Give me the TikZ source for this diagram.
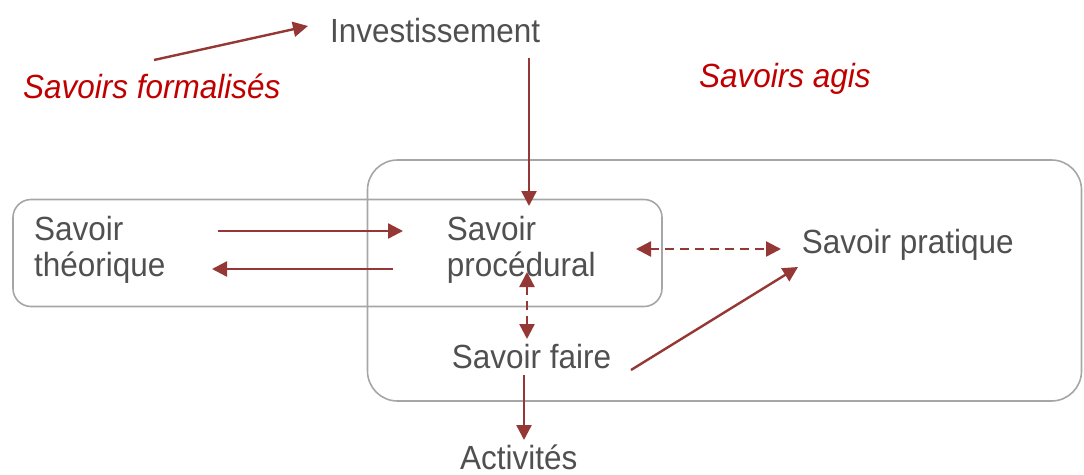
\documentclass[tikz,border=0pt]{standalone}
\usepackage{fontspec}
\setmainfont{Liberation Sans}
\newfontfamily\narrowsans[FakeStretch=0.94]{Liberation Sans}
\usetikzlibrary{arrows.meta}
\definecolor{arrred}{HTML}{953735}
\definecolor{txtgray}{HTML}{505050}
\definecolor{hired}{HTML}{C00000}
\definecolor{boxgray}{HTML}{A6A6A6}
\tikzset{
  lbl/.style={anchor=base west, inner sep=0pt, text=txtgray, font=\narrowsans\fontsize{33.5}{38}\selectfont},
  hilbl/.style={anchor=base west, inner sep=0pt, text=hired, font=\narrowsans\fontsize{33.5}{38}\selectfont\itshape},
  arr/.style={draw=arrred, line width=2.4pt, -{Triangle[length=15pt,width=15pt]}},
  darr/.style={draw=arrred, line width=2.4pt, dash pattern=on 9pt off 6pt, {Triangle[length=15pt,width=15pt]}-{Triangle[length=15pt,width=15pt]}},
  frame/.style={draw=boxgray, line width=1.6pt, inner sep=0pt}
}
\begin{document}
\begin{tikzpicture}[x=1pt,y=-1pt]
\useasboundingbox (0,0) rectangle (1084,474);
% frames
\node[frame, rounded corners=30pt, minimum width=714pt, minimum height=241pt] (agis) at (724.5,280.5) {};
\node[frame, rounded corners=18pt, minimum width=649pt, minimum height=107pt] (proc) at (337.5,253) {};
% texts
\node[lbl] (inv) at (330,42) {Investissement};
\node[hilbl] (form) at (23,98.5) {Savoirs formalisés};
\node[hilbl] (agisl) at (699,87.5) {Savoirs agis};
\node[lbl] (th1) at (34,240.5) {Savoir};
\node[lbl] (th2) at (34,276.5) {théorique};
\node[lbl] (pr1) at (446.7,240.5) {Savoir};
\node[lbl] (pr2) at (446.7,276.5) {procédural};
\node[lbl] (prat) at (801.7,253.5) {Savoir pratique};
\node[lbl] (faire) at (451.7,368) {Savoir faire};
\node[lbl] (act) at (460,469) {Activités};
% connector end points
\coordinate (formA) at (154,60);
\coordinate (invL) at (308,26);
\coordinate (invB) at (529,58);
\coordinate (prT) at (529,206);
\coordinate (thR) at (218,231);
\coordinate (prL) at (403,231);
\coordinate (prL2) at (393,269);
\coordinate (thR2) at (212,269);
\coordinate (prR) at (636,249);
\coordinate (pratL) at (781,249);
\coordinate (prB) at (527,272);
\coordinate (faireT) at (527,339);
\coordinate (faireR) at (631,370);
\coordinate (pratB) at (798,267);
\coordinate (faireB) at (524,375);
\coordinate (actT) at (524,440);
% connectors
\draw[arr] (formA) -- (invL);
\draw[arr] (invB) -- (prT);
\draw[arr] (thR) -- (prL);
\draw[arr] (prL2) -- (thR2);
\draw[darr] (prR) -- (pratL);
\draw[darr] (prB) -- (faireT);
\draw[arr] (faireR) -- (pratB);
\draw[arr] (faireB) -- (actT);
\end{tikzpicture}
\end{document}
